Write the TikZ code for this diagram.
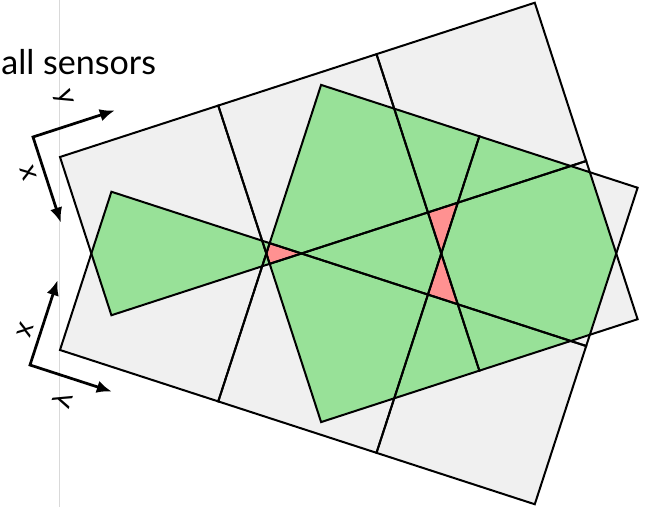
\documentclass[tikz,border=0pt]{standalone}
\usepackage{fontspec}
\setmainfont{Lato}
\usetikzlibrary{arrows.meta}

\definecolor{sensorgray}{HTML}{F0F0F0}
\definecolor{overlapgreen}{HTML}{98E198}
\definecolor{clashred}{HTML}{FF9191}

\begin{document}
\begin{tikzpicture}[x=0.02cm, y=0.02cm,
  sensorA/.style={shift={(60,350)}, rotate=18, scale=166.4},
  sensorB/.style={shift={(0,507)}, yscale=-1, shift={(60,350)}, rotate=18, scale=166.4},
  cell/.style={draw=black, line width=0.04cm},
  axis/.style={{Latex[length=0.3cm, width=0.25cm]}-{Latex[length=0.3cm, width=0.25cm]}, line width=0.055cm},
  axislabel/.style={font=\fontsize{16}{18}\selectfont, inner sep=0pt}
]

\useasboundingbox (0,0) rectangle (647,507);

% faint page edge
\draw[black!15, line width=0.02cm] (59,0) -- (59,507);

% ================= SENSORS: FILLS =================
% Gray: each sensor
\fill[sensorgray, sensorA] (0,0) -- (3,0) -- (3,-2) -- (1,-2) -- (1,-1) -- (0,-1) -- cycle;
\fill[sensorgray, sensorB] (0,0) -- (3,0) -- (3,-2) -- (1,-2) -- (1,-1) -- (0,-1) -- cycle;

% Green: covered by both sensors
\begin{scope}
\clip[sensorA] (0,0) -- (3,0) -- (3,-2) -- (1,-2) -- (1,-1) -- (0,-1) -- cycle;
\fill[overlapgreen, sensorB] (0,0) -- (3,0) -- (3,-2) -- (1,-2) -- (1,-1) -- (0,-1) -- cycle;
\end{scope}

% Red: mismatched cells
\begin{scope}
\clip[sensorA] (1,0) rectangle (2,-1);
\fill[clashred, sensorB] (1,0) rectangle (2,-1);
\end{scope}
\begin{scope}
\clip[sensorA] (2,-1) rectangle (3,-2);
\fill[clashred, sensorB] (1,-1) rectangle (2,-2);
\end{scope}
\begin{scope}
\clip[sensorA] (1,-1) rectangle (2,-2);
\fill[clashred, sensorB] (2,-1) rectangle (3,-2);
\end{scope}

% ================= SENSORS: CELL OUTLINES =================
\foreach \c/\r in {0/0, 1/0, 2/0, 1/1, 2/1} {
  \draw[cell, sensorA] (\c,-\r) rectangle ({\c+1},{-\r-1});
  \draw[cell, sensorB] (\c,-\r) rectangle ({\c+1},{-\r-1});
}

% ================= AXES =================
% upper sensor frame
\coordinate (topO) at (33,370);
\coordinate (topX) at ([shift={(-72:90)}]topO);
\coordinate (topY) at ([shift={(18:86)}]topO);
\draw[axis] (topX) -- (topO) -- (topY);
\node[axislabel, rotate=-72] (topXlabel) at (28,334) {x};
\node[axislabel, rotate=-72] (topYlabel) at (63,409) {y};

% lower sensor frame (mirrored)
\coordinate (botO) at (30,142);
\coordinate (botX) at ([shift={(72:89)}]botO);
\coordinate (botY) at ([shift={(-18:86)}]botO);
\draw[axis] (botX) -- (botO) -- (botY);
\node[axislabel, transform shape, yscale=-1, rotate=-72] (botXlabel) at (25,177) {x};
\node[axislabel, transform shape, yscale=-1, rotate=-72] (botYlabel) at (62,107) {y};

% title
\node[anchor=base west, font=\fontsize{19.4}{22}\selectfont, inner sep=0pt] (title) at (1,432) {all sensors};

\end{tikzpicture}
\end{document}
